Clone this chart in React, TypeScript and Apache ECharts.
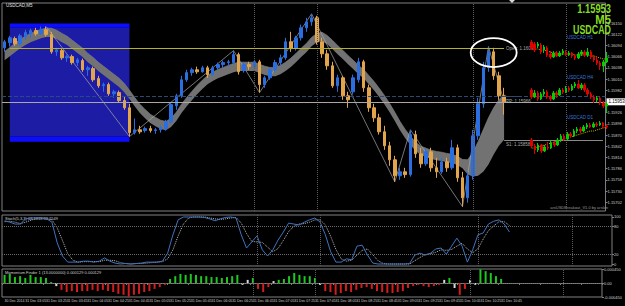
import React, { useEffect, useRef } from 'react';
import * as echarts from 'echarts';

// ---------- data ----------
const timeLabels = [
  '30 Dec 2014', '31 Dec 03:05', '31 Dec 03:25', '31 Dec 03:45', '31 Dec 04:05', '31 Dec 04:25',
  '31 Dec 04:45', '31 Dec 05:05', '31 Dec 05:25', '31 Dec 05:45', '31 Dec 06:05', '31 Dec 06:25',
  '31 Dec 06:45', '31 Dec 07:05', '31 Dec 07:25', '31 Dec 07:45', '31 Dec 08:05', '31 Dec 08:25',
  '31 Dec 08:45', '31 Dec 09:05', '31 Dec 09:25', '31 Dec 09:45', '31 Dec 10:05', '31 Dec 10:25',
  '31 Dec 10:45',
];

// [open, close, low, high]
const candles = [
  [1.16088, 1.16103, 1.16078, 1.16108], [1.16101, 1.16113, 1.16091, 1.16118], [1.16111, 1.16098, 1.16093, 1.16116],
  [1.16098, 1.16118, 1.16093, 1.16123], [1.16116, 1.16126, 1.16108, 1.16133], [1.16123, 1.16131, 1.16113, 1.16136],
  [1.16131, 1.16123, 1.16118, 1.16138], [1.16123, 1.16133, 1.16121, 1.16141], [1.16133, 1.16121, 1.16116, 1.16141],
  [1.16121, 1.16078, 1.16073, 1.16128], [1.16078, 1.16083, 1.16068, 1.16088], [1.16081, 1.16063, 1.16058, 1.16086],
  [1.16063, 1.16066, 1.16053, 1.16071], [1.16066, 1.16051, 1.16046, 1.16071], [1.16051, 1.16058, 1.16043, 1.16063],
  [1.16056, 1.16033, 1.16028, 1.16061], [1.16033, 1.16038, 1.16018, 1.16043], [1.16036, 1.16008, 1.16003, 1.16041],
  [1.16011, 1.15993, 1.15988, 1.16018], [1.15993, 1.15996, 1.15978, 1.16001], [1.15996, 1.15973, 1.15968, 1.16001],
  [1.15973, 1.15978, 1.15963, 1.15983], [1.15976, 1.15956, 1.15951, 1.15981], [1.15956, 1.15938, 1.15933, 1.15966],
  [1.15938, 1.15876, 1.15866, 1.15948], [1.15876, 1.15883, 1.15871, 1.15911], [1.15883, 1.15878, 1.15873, 1.15893],
  [1.15881, 1.15886, 1.15876, 1.15891], [1.15886, 1.15881, 1.15876, 1.15893], [1.15881, 1.15883, 1.15873, 1.15888],
  [1.15883, 1.15888, 1.15876, 1.15893], [1.15886, 1.15903, 1.15881, 1.15908], [1.15903, 1.15946, 1.15898, 1.15951],
  [1.15943, 1.15968, 1.15933, 1.15973], [1.15968, 1.16008, 1.15963, 1.16018], [1.16008, 1.16026, 1.16003, 1.16033],
  [1.16026, 1.16033, 1.16018, 1.16038], [1.16033, 1.16028, 1.16023, 1.16041], [1.16028, 1.16038, 1.16026, 1.16043],
  [1.16038, 1.16021, 1.16013, 1.16043], [1.16021, 1.16038, 1.16018, 1.16043], [1.16038, 1.16046, 1.16033, 1.16051],
  [1.16046, 1.16051, 1.16038, 1.16056], [1.16051, 1.16053, 1.16043, 1.16058], [1.16051, 1.16071, 1.16048, 1.16081],
  [1.16071, 1.16028, 1.16021, 1.16076], [1.16031, 1.16046, 1.16026, 1.16053], [1.16046, 1.16041, 1.16033, 1.16053],
  [1.16041, 1.16053, 1.16036, 1.16058], [1.16053, 1.15996, 1.15976, 1.16058], [1.15996, 1.16013, 1.15988, 1.16018],
  [1.16013, 1.16033, 1.16008, 1.16038], [1.16033, 1.16051, 1.16026, 1.16058], [1.16051, 1.16063, 1.16043, 1.16071],
  [1.16063, 1.16103, 1.16058, 1.16113], [1.16103, 1.16086, 1.16078, 1.16128], [1.16086, 1.16113, 1.16081, 1.16118],
  [1.16113, 1.16138, 1.16106, 1.16146], [1.16138, 1.16153, 1.16128, 1.16163], [1.16153, 1.16163, 1.16143, 1.16173],
  [1.16163, 1.16103, 1.16096, 1.16168], [1.16103, 1.16073, 1.16063, 1.16113], [1.16073, 1.16043, 1.16033, 1.16083],
  [1.16043, 1.15993, 1.15988, 1.16053], [1.15993, 1.16013, 1.15978, 1.16021], [1.16013, 1.15968, 1.15958, 1.16018],
  [1.15968, 1.15958, 1.15938, 1.15978], [1.15978, 1.16013, 1.15971, 1.16021], [1.16008, 1.16053, 1.16001, 1.16063],
  [1.16053, 1.15988, 1.15978, 1.16058], [1.15988, 1.15938, 1.15928, 1.15996], [1.15938, 1.15913, 1.15903, 1.15948],
  [1.15913, 1.15878, 1.15871, 1.15923], [1.15878, 1.15843, 1.15833, 1.15893], [1.15843, 1.15808, 1.15793, 1.15853],
  [1.15808, 1.15768, 1.15753, 1.15818], [1.15768, 1.15778, 1.15758, 1.15788], [1.15778, 1.15771, 1.15763, 1.15788],
  [1.15771, 1.15871, 1.15766, 1.15883], [1.15871, 1.15823, 1.15813, 1.15881], [1.15823, 1.15798, 1.15788, 1.15838],
  [1.15798, 1.15828, 1.15793, 1.15838], [1.15828, 1.15788, 1.15778, 1.15838], [1.15788, 1.15778, 1.15763, 1.15813],
  [1.15778, 1.15803, 1.15773, 1.15813], [1.15803, 1.15788, 1.15778, 1.15813], [1.15788, 1.15838, 1.15783, 1.15858],
  [1.15838, 1.15763, 1.15753, 1.15846], [1.15763, 1.15713, 1.15691, 1.15778], [1.15713, 1.15768, 1.15701, 1.15778],
  [1.15768, 1.15868, 1.15758, 1.15883], [1.15868, 1.15948, 1.15858, 1.15963], [1.15948, 1.16038, 1.15938, 1.16053],
  [1.16038, 1.16078, 1.16028, 1.16091], [1.16078, 1.16018, 1.16008, 1.16088], [1.16018, 1.15968, 1.15958, 1.16028],
  [1.15968, 1.15953, 1.15921, 1.15988],
];

const bandUpper = [
  1.16079, 1.16089, 1.16099, 1.16109, 1.16117, 1.16124, 1.16129, 1.16134, 1.16137, 1.16137,
  1.16132, 1.16124, 1.16117, 1.16107, 1.16097, 1.16087, 1.16074, 1.16064, 1.16052, 1.16042,
  1.16032, 1.16022, 1.16012, 1.15999, 1.15982, 1.15964, 1.15947, 1.15934, 1.15922, 1.15914,
  1.15907, 1.15904, 1.15912, 1.15927, 1.15947, 1.15964, 1.15979, 1.15994, 1.16007, 1.16019,
  1.16027, 1.16034, 1.16039, 1.16044, 1.16049, 1.16052, 1.16052, 1.16052, 1.16052, 1.16047,
  1.16042, 1.16039, 1.16039, 1.16044, 1.16052, 1.16062, 1.16074, 1.16087, 1.16099, 1.16114,
  1.16124, 1.16127, 1.16119, 1.16107, 1.16094, 1.16082, 1.16069, 1.16057, 1.16044, 1.16034,
  1.16019, 1.16004, 1.15987, 1.15969, 1.15949, 1.15927, 1.15904, 1.15884, 1.15867, 1.15852,
  1.15842, 1.15837, 1.15832, 1.15829, 1.15827, 1.15824, 1.15822, 1.15817, 1.15809, 1.15808,
  1.15826, 1.15853, 1.15883, 1.15913, 1.15938, 1.15958, 1.15971,
];
const bandLower = [
  1.16057, 1.16067, 1.16077, 1.16087, 1.16095, 1.16102, 1.16107, 1.16112, 1.16115, 1.16115,
  1.16110, 1.16102, 1.16095, 1.16085, 1.16075, 1.16065, 1.16052, 1.16042, 1.16030, 1.16020,
  1.16010, 1.16000, 1.15990, 1.15977, 1.15960, 1.15942, 1.15925, 1.15912, 1.15900, 1.15892,
  1.15885, 1.15882, 1.15890, 1.15905, 1.15925, 1.15942, 1.15957, 1.15972, 1.15985, 1.15997,
  1.16005, 1.16012, 1.16017, 1.16022, 1.16027, 1.16030, 1.16030, 1.16030, 1.16030, 1.16025,
  1.16020, 1.16017, 1.16017, 1.16022, 1.16030, 1.16040, 1.16052, 1.16065, 1.16077, 1.16092,
  1.16102, 1.16105, 1.16097, 1.16085, 1.16072, 1.16060, 1.16047, 1.16035, 1.16022, 1.16012,
  1.15997, 1.15982, 1.15965, 1.15947, 1.15927, 1.15905, 1.15882, 1.15862, 1.15845, 1.15830,
  1.15820, 1.15815, 1.15810, 1.15807, 1.15805, 1.15802, 1.15800, 1.15795, 1.15787, 1.15771,
  1.15766, 1.15768, 1.15778, 1.15796, 1.15821, 1.15843, 1.15858,
];

const zigzagIdx = [8, 24, 44, 49, 59, 75, 78, 88, 93, 96];
const zigzagPrice = [1.16141, 1.15866, 1.16081, 1.15976, 1.16173, 1.15753, 1.15883, 1.15691, 1.16091, 1.15953];

// the 1.15954 tick sits under the current-price box, so it is not listed
const priceTicks = [
  1.1615, 1.16122, 1.16094, 1.16066, 1.16038, 1.1601, 1.15982, 1.15926,
  1.15898, 1.1587, 1.15842, 1.15814, 1.15786, 1.15758, 1.1573, 1.15702,
];

const lastPrice = 1.15953;
const openPrice = 1.16086;
const pivotPrice = 1.15966;
const s1Price = 1.15858;
const boxStart = 1;
const boxEnd = 24;
const boxTop = 1.16149;
const boxTopInner = 1.16138;
const boxBottomInner = 1.15866;
const boxBottom = 1.15853;
const vLines = [48, 60, 90, 108];
const ellipseBar = 94;
const ellipsePrice = 1.16076;

const stochMain = [
  92, 89, 85, 85, 96, 98, 98, 98, 96, 89, 45, 17, 4, 4, 4, 6, 6, 4, 6, 13,
  6, 2, 0, 1, 0, 1, 2, 4, 4, 4, 6, 23, 62, 94, 100, 100, 100, 100, 99, 96,
  92, 96, 99, 100, 98, 62, 34, 47, 60, 30, 17, 30, 51, 68, 87, 85, 83, 89, 94, 98,
  89, 62, 26, 4, 4, 11, 9, 38, 40, 19, 2, 0, 0, 0, 0, 0, 0, 1, 19, 23,
  19, 23, 32, 34, 21, 38, 55, 38, 4, 30, 62, 66, 85, 91, 94, 85, 68,
];
const stochSignal = [
  90, 91, 89, 86, 89, 93, 97, 98, 97, 94, 77, 50, 22, 8, 4, 5, 5, 5, 5, 8,
  8, 7, 3, 1, 0, 1, 1, 2, 3, 4, 5, 11, 30, 60, 85, 98, 100, 100, 100, 98,
  96, 95, 96, 98, 99, 87, 65, 48, 47, 46, 36, 26, 33, 50, 69, 80, 85, 86, 89, 94,
  94, 83, 59, 31, 11, 6, 8, 19, 29, 32, 20, 7, 1, 0, 0, 0, 0, 0, 7, 14,
  20, 22, 25, 30, 29, 31, 38, 44, 32, 24, 32, 53, 71, 81, 90, 90, 82,
];

const momentum = [
  0.00026, 0.00029, 0.00019, 0.00022, 0.00016, 0.00026, 0.00019, 0.00019, 0.00016, 0.00003,
  -0.0001, -0.00022, -0.00029, -0.00026, -0.00029, -0.00026, -0.00026, -0.00022, -0.00026, -0.00022,
  -0.00026, -0.00029, -0.00035, -0.00038, -0.00044, -0.00038, -0.00035, -0.00029, -0.00026, -0.00019,
  -0.00013, -0.00006, 0.00013, 0.00022, 0.00029, 0.00026, 0.00029, 0.00026, 0.00022, 0.00022,
  0.00019, 0.00019, 0.00016, 0.00019, 0.00022, 0.00026, -0.00006, 0.0001, 0.00016, -0.00019,
  -0.00029, -0.00013, 0.00006, 0.0001, 0.00013, 0.00022, 0.00032, 0.00026, 0.00022, 0.00022,
  0.00016, -0.00006, -0.00026, -0.00029, -0.00038, -0.00032, -0.00026, -0.00029, -0.00022, -0.00016,
  -0.00013, -0.00019, -0.00026, -0.00029, -0.00032, -0.00032, -0.00029, -0.00026, -0.00016, -0.0001,
  -0.00006, -0.0001, -0.00013, -0.0001, -0.00006, 0.0001, 0.00016, -0.00016, -0.00038, -0.00019,
  0.0001, -0.00006, 0.00044, 0.00038, 0.00032, 0.00022, 0.00013,
];
const momentumWhite = [10, 46, 47, 52, 61, 85, 87, 90, 91];

// mini charts [open, close, low, high]
const h1Candles = [
  [1.1638, 1.1632, 1.163, 1.164], [1.1636, 1.163, 1.1628, 1.1638], [1.1634, 1.1636, 1.1632, 1.1638],
  [1.1635, 1.1628, 1.1626, 1.1637], [1.163, 1.1633, 1.1627, 1.1635], [1.1632, 1.1625, 1.1623, 1.1634],
  [1.1626, 1.1623, 1.1621, 1.1629], [1.1623, 1.1627, 1.1622, 1.1629], [1.1627, 1.1624, 1.1623, 1.1629],
  [1.1624, 1.1627, 1.1623, 1.1629], [1.1627, 1.1629, 1.1625, 1.1631], [1.1628, 1.1625, 1.1624, 1.163],
  [1.1625, 1.1627, 1.1624, 1.1629], [1.1627, 1.1624, 1.1622, 1.1628], [1.1624, 1.1622, 1.162, 1.1626],
  [1.1622, 1.1626, 1.1621, 1.1628], [1.1626, 1.1628, 1.1624, 1.163], [1.1628, 1.1625, 1.1623, 1.163],
  [1.1625, 1.1628, 1.1623, 1.1632], [1.1628, 1.1623, 1.1621, 1.163], [1.1623, 1.162, 1.1618, 1.1625],
  [1.162, 1.1617, 1.1615, 1.1623], [1.1617, 1.1614, 1.161, 1.1619], [1.1614, 1.1618, 1.1608, 1.162],
  [1.1618, 1.1622, 1.1617, 1.1628],
];
const h1Ma = [
  1.1632, 1.1631, 1.1631, 1.163, 1.163, 1.1629, 1.1628, 1.1627, 1.1627, 1.1626, 1.1626, 1.1626, 1.1626,
  1.1626, 1.1625, 1.1625, 1.1625, 1.1625, 1.1625, 1.1624, 1.1624, 1.1623, 1.1622, 1.1621, 1.1621,
];
const h4Candles = [
  [1.161, 1.1603, 1.1601, 1.1612], [1.1603, 1.1607, 1.1602, 1.161], [1.1607, 1.1601, 1.1599, 1.1609],
  [1.1601, 1.1606, 1.16, 1.1608], [1.1606, 1.1608, 1.1604, 1.1611], [1.1608, 1.1603, 1.1601, 1.161],
  [1.1603, 1.1601, 1.1599, 1.1605], [1.1601, 1.1607, 1.16, 1.1609], [1.1607, 1.1605, 1.1602, 1.1609],
  [1.1605, 1.161, 1.1604, 1.1612], [1.161, 1.1608, 1.1606, 1.1612], [1.1608, 1.1612, 1.1607, 1.1614],
  [1.1612, 1.161, 1.1608, 1.1614], [1.161, 1.1614, 1.1609, 1.1616], [1.1614, 1.1616, 1.1612, 1.1618],
  [1.1616, 1.1612, 1.1611, 1.162], [1.1612, 1.1615, 1.161, 1.1617], [1.1615, 1.161, 1.1608, 1.1617],
  [1.161, 1.1606, 1.1604, 1.1612], [1.1606, 1.1603, 1.1601, 1.1608], [1.1603, 1.16, 1.1597, 1.1605],
  [1.16, 1.1602, 1.1598, 1.1604], [1.1602, 1.1597, 1.1595, 1.1603], [1.1597, 1.1594, 1.1592, 1.1599],
  [1.1594, 1.1596, 1.1587, 1.1598],
];
const d1Candles = [
  [1.156, 1.1554, 1.1552, 1.1562], [1.1554, 1.155, 1.1546, 1.1556], [1.155, 1.1555, 1.1548, 1.1557],
  [1.1555, 1.1549, 1.1547, 1.1556], [1.1549, 1.1553, 1.1548, 1.1555], [1.1553, 1.1552, 1.155, 1.1558],
  [1.1552, 1.1557, 1.1551, 1.156], [1.1557, 1.1555, 1.1553, 1.1559], [1.1555, 1.156, 1.1554, 1.1562],
  [1.156, 1.1564, 1.1558, 1.1566], [1.1564, 1.1561, 1.1559, 1.1566], [1.1561, 1.1566, 1.156, 1.1568],
  [1.1566, 1.1564, 1.1562, 1.1568], [1.1564, 1.1569, 1.1563, 1.1571], [1.1569, 1.1571, 1.1567, 1.1573],
  [1.1571, 1.1569, 1.1567, 1.1573], [1.1569, 1.1573, 1.1568, 1.1575], [1.1573, 1.1575, 1.1571, 1.1577],
  [1.1575, 1.1573, 1.1572, 1.1577], [1.1573, 1.1576, 1.1572, 1.1578], [1.1576, 1.1575, 1.1573, 1.1578],
  [1.1575, 1.1577, 1.1574, 1.1579], [1.1577, 1.1574, 1.1572, 1.1578], [1.1574, 1.1573, 1.1571, 1.1576],
];
const d1Ma = [
  1.1552, 1.1552, 1.1553, 1.1554, 1.1555, 1.1556, 1.1557, 1.1558, 1.1559, 1.156, 1.1561, 1.1562,
  1.1563, 1.1564, 1.1565, 1.1566, 1.1567, 1.1568, 1.1569, 1.1569, 1.157, 1.1571, 1.1572, 1.1573,
];

// ---------- chart ----------
const SLOTS = 116;
const slots = Array.from({ length: SLOTS }, (_, i) => String(i));
const FONT = 'Arial, "Liberation Sans", sans-serif';
const AX = '#808080';

function buildOption() {
  const bandDiff = bandUpper.map((u, i) => +(u - bandLower[i]).toFixed(5));
  const zigzag = zigzagIdx.map((ix, k) => [ix, zigzagPrice[k]]);
  const vLineData = vLines.map((v) => ({ xAxis: v }));
  const vLineStyle = { color: '#5a5a5a', type: 'dotted', width: 1 };
  const miniX = (n: number, grid: number) => ({
    type: 'category', gridIndex: grid, data: Array.from({ length: n }, (_, i) => String(i)),
    show: false, boundaryGap: true,
  });
  const miniY = (grid: number, min: number, max: number) => ({
    type: 'value', gridIndex: grid, min, max, show: false, splitLine: { show: false },
  });
  const miniStyle = { color: '#00d000', color0: '#e00000', borderColor: '#00d000', borderColor0: '#e00000', borderWidth: 1 };
  const segLabel = (text: string, position: string) => ({
    show: true, formatter: text, position, color: '#a8a8a8', fontSize: 4.5, fontFamily: FONT, distance: 2,
  });

  return {
    animation: false,
    backgroundColor: '#000000',
    grid: [
      { left: 2, top: 3, width: 610, height: 208, show: true, borderColor: AX, borderWidth: 1, backgroundColor: 'transparent' },
      { left: 2, top: 215, width: 610, height: 51, show: true, borderColor: AX, borderWidth: 1, backgroundColor: 'transparent' },
      { left: 2, top: 269, width: 610, height: 28, show: true, borderColor: AX, borderWidth: 1, backgroundColor: 'transparent' },
      { left: 530, top: 40, width: 78, height: 32 },
      { left: 530, top: 80, width: 78, height: 33 },
      { left: 530, top: 120, width: 78, height: 35 },
    ],
    xAxis: [
      { type: 'category', gridIndex: 0, data: slots, boundaryGap: true, axisLine: { show: false }, axisTick: { show: false }, axisLabel: { show: false }, splitLine: { show: false } },
      { type: 'category', gridIndex: 1, data: slots, boundaryGap: true, axisLine: { show: false }, axisTick: { show: false }, axisLabel: { show: false }, splitLine: { show: false } },
      {
        type: 'category', gridIndex: 2, data: slots, boundaryGap: true,
        axisLine: { show: true, lineStyle: { color: AX } },
        axisTick: { show: true, interval: 3, length: 2, lineStyle: { color: AX } },
        axisLabel: {
          show: true, interval: 3, margin: 2, fontSize: 3.5, color: '#d0d0d0', fontFamily: FONT, align: 'left',
          formatter: (_v: string, idx: number) => timeLabels[idx / 4] ?? '',
        },
        splitLine: { show: false },
      },
      miniX(h1Candles.length, 3),
      miniX(h4Candles.length, 4),
      miniX(d1Candles.length, 5),
    ],
    yAxis: [
      {
        type: 'value', gridIndex: 0, position: 'right', min: 1.1568, max: 1.162,
        splitLine: { show: false }, axisLine: { show: false },
        axisTick: { show: true, length: 2, lineStyle: { color: AX }, customValues: priceTicks },
        axisLabel: { show: true, customValues: priceTicks, formatter: (v: number) => v.toFixed(5), fontSize: 4, color: '#d0d0d0', margin: 2, fontFamily: FONT },
      },
      {
        type: 'value', gridIndex: 1, position: 'right', min: -4.25, max: 104.25,
        splitLine: { show: false }, axisLine: { show: false },
        axisTick: { show: true, length: 2, lineStyle: { color: AX }, customValues: [0, 20, 80, 100] },
        axisLabel: { show: true, customValues: [0, 20, 80, 100], fontSize: 4, color: '#d0d0d0', margin: 2, fontFamily: FONT },
      },
      {
        type: 'value', gridIndex: 2, position: 'right', min: -0.00045, max: 0.00045,
        splitLine: { show: false }, axisLine: { show: false },
        axisTick: { show: true, length: 2, lineStyle: { color: AX }, customValues: [-0.00045, 0, 0.00045] },
        axisLabel: {
          show: true, customValues: [-0.00045, 0, 0.00045], fontSize: 4, color: '#d0d0d0', margin: 2, fontFamily: FONT,
          formatter: (v: number) => (Math.abs(v) < 1e-9 ? '0.00' : v.toFixed(6)),
        },
      },
      miniY(3, 1.1608, 1.164),
      miniY(4, 1.1587, 1.162),
      miniY(5, 1.1545, 1.158),
    ],
    series: [
      {
        name: 'bandLower', type: 'line', xAxisIndex: 0, yAxisIndex: 0, data: bandLower, stack: 'band',
        symbol: 'none', lineStyle: { width: 0, opacity: 0 }, z: 1, silent: true,
        markArea: {
          silent: true,
          data: [
            [{ xAxis: boxStart, yAxis: boxTopInner, itemStyle: { color: '#1c1ca4' } }, { xAxis: boxEnd, yAxis: boxBottomInner }],
            [{ xAxis: boxStart, yAxis: boxTop, itemStyle: { color: '#0c0cff' } }, { xAxis: boxEnd, yAxis: boxTopInner }],
            [{ xAxis: boxStart, yAxis: boxBottomInner, itemStyle: { color: '#0c0cff' } }, { xAxis: boxEnd, yAxis: boxBottom }],
          ],
        },
      },
      {
        name: 'band', type: 'line', xAxisIndex: 0, yAxisIndex: 0, data: bandDiff, stack: 'band',
        symbol: 'none', lineStyle: { width: 0.6, color: '#8c8c8c' }, areaStyle: { color: '#727272', opacity: 1 }, z: 2, silent: true,
      },
      {
        name: 'zigzag', type: 'line', xAxisIndex: 0, yAxisIndex: 0, data: zigzag,
        symbol: 'none', lineStyle: { width: 0.7, color: '#a8a8a8' }, z: 3, silent: true,
      },
      {
        name: 'USDCAD', type: 'candlestick', xAxisIndex: 0, yAxisIndex: 0, data: candles, barWidth: 3, z: 4,
        itemStyle: { color: '#2a6ee0', color0: '#e2a54c', borderColor: '#2a6ee0', borderColor0: '#e2a54c', borderWidth: 1 },
        markLine: {
          silent: true, symbol: 'none', animation: false, precision: 6,
          label: { show: false },
          data: [
            ...vLineData.map((d) => ({ ...d, lineStyle: vLineStyle })),
            { yAxis: pivotPrice, lineStyle: { color: '#2c4a78', type: 'dashed', width: 1 } },
            {
              yAxis: lastPrice, lineStyle: { color: '#a8a8a8', type: 'solid', width: 1 },
              label: { show: true, position: 'end', distance: 1, formatter: lastPrice.toFixed(5), backgroundColor: '#ffffff', color: '#000000', fontSize: 4.5, padding: [1, 2], fontFamily: FONT },
            },
            [
              { coord: [1, openPrice], lineStyle: { color: '#b4b02c', type: 'solid', width: 1 }, label: segLabel('Open: ' + openPrice.toFixed(5), 'end') },
              { coord: [96, openPrice], lineStyle: { color: '#b4b02c', type: 'solid', width: 1 }, label: segLabel('Open: ' + openPrice.toFixed(5), 'end') },
            ],
            [
              { coord: [96, s1Price], lineStyle: { color: '#8a8a8a', type: 'solid', width: 1 }, label: segLabel('S1: ' + s1Price.toFixed(5), 'insideStartBottom') },
              { coord: [115, s1Price], lineStyle: { color: '#8a8a8a', type: 'solid', width: 1 }, label: segLabel('S1: ' + s1Price.toFixed(5), 'insideStartBottom') },
            ],
            [
              { coord: [96, pivotPrice], lineStyle: { color: '#2c4a78', type: 'dashed', width: 1 }, label: segLabel('PP: ' + pivotPrice.toFixed(5), 'insideStartBottom') },
              { coord: [99, pivotPrice], lineStyle: { color: '#2c4a78', type: 'dashed', width: 1 }, label: segLabel('PP: ' + pivotPrice.toFixed(5), 'insideStartBottom') },
            ],
          ],
        },
      },
      {
        name: 'USDCAD H1', type: 'candlestick', xAxisIndex: 3, yAxisIndex: 3, data: h1Candles, barWidth: 2, itemStyle: miniStyle, z: 5,
      },
      {
        name: 'H1 MA', type: 'line', xAxisIndex: 3, yAxisIndex: 3, data: h1Ma, symbol: 'none', lineStyle: { color: '#c8b400', type: 'dotted', width: 1 }, z: 5,
      },
      {
        name: 'USDCAD H4', type: 'candlestick', xAxisIndex: 4, yAxisIndex: 4, data: h4Candles, barWidth: 2, itemStyle: miniStyle, z: 5,
      },
      {
        name: 'USDCAD D1', type: 'candlestick', xAxisIndex: 5, yAxisIndex: 5, data: d1Candles, barWidth: 2, itemStyle: miniStyle, z: 5,
      },
      {
        name: 'D1 MA', type: 'line', xAxisIndex: 5, yAxisIndex: 5, data: d1Ma, symbol: 'none', lineStyle: { color: '#c8b400', type: 'dotted', width: 1 }, z: 5,
      },
      {
        name: 'Stoch', type: 'line', xAxisIndex: 1, yAxisIndex: 1, data: stochMain, symbol: 'none',
        lineStyle: { color: '#3f74c0', width: 1 }, z: 3,
        markLine: {
          silent: true, symbol: 'none', label: { show: false },
          data: [
            { yAxis: 80, lineStyle: { color: '#6a6a6a', type: 'dotted', width: 1 } },
            { yAxis: 20, lineStyle: { color: '#6a6a6a', type: 'dotted', width: 1 } },
            ...vLineData.map((d) => ({ ...d, lineStyle: vLineStyle })),
          ],
        },
      },
      {
        name: 'Signal', type: 'line', xAxisIndex: 1, yAxisIndex: 1, data: stochSignal, symbol: 'none',
        lineStyle: { color: '#b8b8b8', width: 1, type: 'dotted' }, z: 2,
      },
      {
        name: 'Momentum', type: 'bar', xAxisIndex: 2, yAxisIndex: 2, barWidth: 2,
        data: momentum.map((v, i) => ({
          value: v,
          itemStyle: { color: momentumWhite.includes(i) ? '#d8d8d8' : v >= 0 ? '#1ec81e' : '#d21e1e' },
        })),
        markLine: {
          silent: true, symbol: 'none', label: { show: false }, precision: 6,
          data: [
            { yAxis: 0, lineStyle: { color: '#6a6a6a', type: 'dotted', width: 1 } },
            ...vLineData.map((d) => ({ ...d, lineStyle: vLineStyle })),
          ],
        },
      },
    ],
  };
}

const staticGraphics = [
  { type: 'text', left: 6, top: 3, style: { text: 'USDCAD,M5', fill: '#e0e0e0', fontSize: 4.5, fontFamily: FONT } },
  { type: 'text', x: 611, y: 3, scaleX: 0.78, style: { text: '1.15953', fill: '#84dc20', fontSize: 12, fontWeight: 'bold', fontFamily: FONT, align: 'right', verticalAlign: 'top' } },
  { type: 'text', x: 611, y: 13.6, scaleX: 0.95, style: { text: 'M5', fill: '#84dc20', fontSize: 12, fontWeight: 'bold', fontFamily: FONT, align: 'right', verticalAlign: 'top' } },
  { type: 'text', x: 611, y: 23.8, scaleX: 0.74, style: { text: 'USDCAD', fill: '#84dc20', fontSize: 12, fontWeight: 'bold', fontFamily: FONT, align: 'right', verticalAlign: 'top' } },
  { type: 'text', x: 567, y: 35, style: { text: 'USDCAD H1', fill: '#3a78d8', fontSize: 4.5, fontFamily: FONT } },
  { type: 'text', x: 567, y: 75, style: { text: 'USDCAD H4', fill: '#3a78d8', fontSize: 4.5, fontFamily: FONT } },
  { type: 'text', x: 567, y: 115, style: { text: 'USDCAD D1', fill: '#3a78d8', fontSize: 4.5, fontFamily: FONT } },
  { type: 'text', x: 608, y: 205, style: { text: 'arsUSDBreakout_V1.0 by arslan', fill: '#9a9a9a', fontSize: 4, fontFamily: FONT, align: 'right' } },
  { type: 'text', x: 5, y: 216, style: { text: 'Stoch(5,3,3) 68.1818 82.1549', fill: '#d0d0d0', fontSize: 4, fontFamily: FONT } },
  { type: 'text', x: 5, y: 270, style: { text: 'Momentum Finder 1 (13.0000000) 0.000129 0.000129', fill: '#d0d0d0', fontSize: 4, fontFamily: FONT } },
  { type: 'polygon', shape: { points: [[509, 0], [515, 0], [512, 3]] }, style: { fill: '#d8d8d8' } },
];

export default function App() {
  const ref = useRef<HTMLDivElement>(null);
  useEffect(() => {
    document.body.style.margin = '0';
    document.body.style.background = '#000';
    const chart = echarts.init(ref.current as HTMLDivElement, undefined, { renderer: 'svg' });
    const option: any = buildOption();
    option.graphic = { elements: staticGraphics };
    chart.setOption(option);
    const pt = chart.convertToPixel({ gridIndex: 0 }, [ellipseBar, ellipsePrice]) as number[];
    chart.setOption({
      graphic: {
        elements: [
          ...staticGraphics,
          { type: 'ellipse', shape: { cx: pt[0], cy: pt[1], rx: 23, ry: 14.5 }, style: { fill: 'none', stroke: '#ffffff', lineWidth: 1.8 }, z: 50 },
        ],
      },
    });
    return () => chart.dispose();
  }, []);
  return <div ref={ref} style={{ width: 625, height: 306, background: '#000' }} />;
}
